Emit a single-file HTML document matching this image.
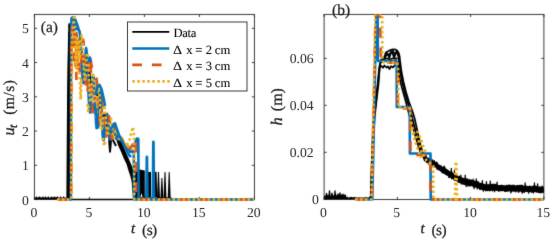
<!DOCTYPE html>
<html><head><meta charset="utf-8"><style>html,body{margin:0;padding:0;background:#fff;width:550px;height:241px;overflow:hidden}svg{display:block}text{text-rendering:geometricPrecision}</style></head>
<body><svg width="550" height="241" viewBox="0 0 550 241">
<defs><filter id="soft" x="0" y="0" width="550" height="241" filterUnits="userSpaceOnUse" color-interpolation-filters="sRGB"><feConvolveMatrix order="3" kernelMatrix="0.0200 0.0800 0.0200 0.0800 0.6000 0.0800 0.0200 0.0800 0.0200" divisor="1" edgeMode="duplicate"/></filter><filter id="soft2" x="0" y="0" width="550" height="241" filterUnits="userSpaceOnUse" color-interpolation-filters="sRGB"><feConvolveMatrix order="3" kernelMatrix="0.0110 0.0440 0.0110 0.0440 0.7800 0.0440 0.0110 0.0440 0.0110" divisor="1" edgeMode="duplicate"/></filter><clipPath id="cl"><rect x="34.4" y="14.4" width="220.0" height="186.54999999999998"/></clipPath>
<clipPath id="cr"><rect x="324.1" y="14.4" width="219.79999999999995" height="186.54999999999998"/></clipPath></defs>
<rect width="550" height="241" fill="#fff"/><g filter="url(#soft)"><rect width="550" height="241" fill="#fff"/>
<rect x="34.4" y="14.4" width="220.0" height="185.04999999999998" fill="none" stroke="#262626" stroke-width="0.9"/><path d="M34.40,199.45 V196.85 M34.40,14.4 V17.0" stroke="#262626" stroke-width="0.9"/><path d="M89.40,199.45 V196.85 M89.40,14.4 V17.0" stroke="#262626" stroke-width="0.9"/><path d="M144.40,199.45 V196.85 M144.40,14.4 V17.0" stroke="#262626" stroke-width="0.9"/><path d="M199.40,199.45 V196.85 M199.40,14.4 V17.0" stroke="#262626" stroke-width="0.9"/><path d="M254.40,199.45 V196.85 M254.40,14.4 V17.0" stroke="#262626" stroke-width="0.9"/><path d="M34.4,199.55 H37.0 M254.4,199.55 H251.8" stroke="#262626" stroke-width="0.9"/><path d="M34.4,165.30 H37.0 M254.4,165.30 H251.8" stroke="#262626" stroke-width="0.9"/><path d="M34.4,131.05 H37.0 M254.4,131.05 H251.8" stroke="#262626" stroke-width="0.9"/><path d="M34.4,96.80 H37.0 M254.4,96.80 H251.8" stroke="#262626" stroke-width="0.9"/><path d="M34.4,62.55 H37.0 M254.4,62.55 H251.8" stroke="#262626" stroke-width="0.9"/><path d="M34.4,28.30 H37.0 M254.4,28.30 H251.8" stroke="#262626" stroke-width="0.9"/>
<rect x="324.1" y="14.4" width="219.79999999999995" height="185.04999999999998" fill="none" stroke="#262626" stroke-width="0.9"/><path d="M324.10,199.45 V196.85 M324.10,14.4 V17.0" stroke="#262626" stroke-width="0.9"/><path d="M397.37,199.45 V196.85 M397.37,14.4 V17.0" stroke="#262626" stroke-width="0.9"/><path d="M470.63,199.45 V196.85 M470.63,14.4 V17.0" stroke="#262626" stroke-width="0.9"/><path d="M543.90,199.45 V196.85 M543.90,14.4 V17.0" stroke="#262626" stroke-width="0.9"/><path d="M324.1,199.35 H326.70000000000005 M543.9,199.35 H541.3" stroke="#262626" stroke-width="0.9"/><path d="M324.1,152.35 H326.70000000000005 M543.9,152.35 H541.3" stroke="#262626" stroke-width="0.9"/><path d="M324.1,105.35 H326.70000000000005 M543.9,105.35 H541.3" stroke="#262626" stroke-width="0.9"/><path d="M324.1,58.35 H326.70000000000005 M543.9,58.35 H541.3" stroke="#262626" stroke-width="0.9"/>
<g clip-path="url(#cl)"><path d="M34.40,198.14 L35.30,198.44 L36.20,198.27 L37.10,198.50 L38.00,198.53 L38.90,197.97 L39.80,197.91 L40.70,198.74 L41.60,198.16 L42.50,198.13 L43.40,198.90 L44.30,198.37 L45.20,198.74 L46.10,198.38 L47.00,198.54 L47.90,198.05 L48.80,198.53 L49.70,198.77 L50.60,198.42 L51.50,198.64 L52.40,198.57 L53.30,197.96 L54.20,198.66 L55.10,198.49 L56.00,198.20 L56.90,197.93 L57.80,198.77 L58.70,198.37 L59.60,198.62 L60.50,198.78 L61.40,198.61 L62.30,198.82 L63.20,198.29 L64.10,198.70 L65.00,198.34 L65.90,198.84 L66.80,198.78" fill="none" stroke="#000" stroke-width="1.8" stroke-linejoin="round" stroke-linecap="butt"/><path d="M36.00,198.80 L36.60,196.90 L37.20,198.80" fill="none" stroke="#000" stroke-width="1.1" stroke-linejoin="round" stroke-linecap="butt"/><path d="M39.00,198.80 L39.60,196.90 L40.20,198.80" fill="none" stroke="#000" stroke-width="1.1" stroke-linejoin="round" stroke-linecap="butt"/><path d="M42.50,198.80 L43.10,196.90 L43.70,198.80" fill="none" stroke="#000" stroke-width="1.1" stroke-linejoin="round" stroke-linecap="butt"/><path d="M45.00,198.80 L45.60,196.90 L46.20,198.80" fill="none" stroke="#000" stroke-width="1.1" stroke-linejoin="round" stroke-linecap="butt"/><path d="M48.00,198.80 L48.60,196.90 L49.20,198.80" fill="none" stroke="#000" stroke-width="1.1" stroke-linejoin="round" stroke-linecap="butt"/><path d="M51.00,198.80 L51.60,196.90 L52.20,198.80" fill="none" stroke="#000" stroke-width="1.1" stroke-linejoin="round" stroke-linecap="butt"/><path d="M54.00,198.80 L54.60,196.90 L55.20,198.80" fill="none" stroke="#000" stroke-width="1.1" stroke-linejoin="round" stroke-linecap="butt"/><path d="M57.00,198.80 L57.60,196.90 L58.20,198.80" fill="none" stroke="#000" stroke-width="1.1" stroke-linejoin="round" stroke-linecap="butt"/><path d="M60.00,198.80 L60.60,196.90 L61.20,198.80" fill="none" stroke="#000" stroke-width="1.1" stroke-linejoin="round" stroke-linecap="butt"/><path d="M63.00,198.80 L63.60,196.90 L64.20,198.80" fill="none" stroke="#000" stroke-width="1.1" stroke-linejoin="round" stroke-linecap="butt"/><path d="M67.30,199.45 L68.00,100.00 L68.90,40.00 L69.30,24.20 L70.20,24.50 L70.20,40.00 L69.80,100.00 L69.40,199.45" fill="none" stroke="#000" stroke-width="1.9" stroke-linejoin="round" stroke-linecap="butt"/><path d="M68.30,199.45 L68.60,100.00 L69.40,32.00" fill="none" stroke="#000" stroke-width="2.4" stroke-linejoin="round" stroke-linecap="butt"/><path d="M69.20,25.00 L71.00,32.00 L73.00,28.00 L75.00,40.00 L77.00,36.00 L79.00,52.00 L81.00,46.00 L83.00,62.00 L85.00,56.00 L87.00,74.00 L89.00,66.00 L91.00,86.00 L93.00,80.00 L95.00,98.00 L97.00,92.00 L99.00,108.00 L101.00,104.00 L103.00,118.00 L105.00,113.00 L107.00,128.00 L108.50,124.00 L110.00,151.50 L111.00,138.00 L113.00,140.00 L116.00,146.00" fill="none" stroke="#000" stroke-width="1.9" stroke-linejoin="round" stroke-linecap="butt"/><path d="M103.52,132.00 L107.56,134.00 L112.66,136.50 L116.46,140.00 L117.92,145.00 L121.15,152.00 L123.76,158.50 L126.51,164.00 L128.26,170.00 L130.32,176.00 L131.70,182.00 L132.30,190.00 L133.29,199.00 L136.00,199.00 L136.00,172.00 L133.40,170.00 L131.00,164.00 L128.00,157.00 L125.00,150.00 L122.50,144.00 L120.25,140.00 L117.00,134.00 L112.00,131.00 L108.00,130.00 Z" fill="#000" stroke="none"/><path d="M109.50,140.00 L110.00,151.50 L110.60,141.00" fill="none" stroke="#000" stroke-width="2.0" stroke-linejoin="round" stroke-linecap="butt"/><path d="M136.00,171.00 L139.50,169.50 L144.80,170.50 L144.80,197.00 L142.50,197.00 L141.50,193.00 L140.50,197.00 L136.00,197.00 Z" fill="#000" stroke="none"/><path d="M147.80,172.00 L151.00,172.00 L151.00,197.00 L147.80,197.00 Z" fill="#000" stroke="none"/><path d="M153.50,172.00 L156.60,171.80 L157.20,197.00 L153.50,197.00 Z" fill="#000" stroke="none"/><path d="M157.00,198.50 L158.00,172.00 L159.00,172.00 L160.00,198.50 Z" fill="#000" stroke="none"/><path d="M160.40,198.50 L161.40,178.00 L162.40,178.00 L163.40,198.50 Z" fill="#000" stroke="none"/><path d="M163.50,198.50 L164.50,172.00 L165.50,172.00 L166.50,198.50 Z" fill="#000" stroke="none"/><path d="M167.70,198.50 L168.70,172.00 L169.70,172.00 L170.70,198.50 Z" fill="#000" stroke="none"/><path d="M136.00,198.00 L171.50,198.30" fill="none" stroke="#000" stroke-width="1.6" stroke-linejoin="round" stroke-linecap="butt"/><path d="M64.40,199.45 L254.40,199.45" fill="none" stroke="#000" stroke-width="1.6" stroke-linejoin="round" stroke-linecap="butt"/><path d="M71.00,30.00 L72.30,17.60 L74.00,17.80 L75.60,20.70 L78.60,30.50 Z" fill="#0072BD" stroke="none"/><path d="M57.00,199.45 L70.90,199.45 L71.00,30.00 L71.60,18.00 L72.60,17.20 L74.00,17.60 L75.60,20.50 L77.30,25.00 L79.00,30.50 L79.60,31.52 L80.10,35.81 L80.60,42.87 L81.10,52.11 L81.60,63.54 L82.10,71.17 L82.60,78.65 L83.10,82.68 L83.60,83.08 L84.10,79.90 L84.60,72.98 L85.10,62.08 L85.60,52.02 L86.10,48.05 L86.60,51.23 L87.10,57.78 L87.60,68.28 L88.10,80.98 L88.60,95.94 L89.10,104.37 L89.60,110.22 L90.10,112.55 L90.60,108.17 L91.10,100.01 L91.60,90.58 L92.10,82.39 L92.60,77.32 L93.10,76.07 L93.60,76.56 L94.10,83.34 L94.60,92.64 L95.10,106.00 L95.60,114.19 L96.10,123.27 L96.60,128.11 L97.10,124.45 L97.60,116.89 L98.10,108.96 L98.60,100.44 L99.10,92.96 L99.60,90.18 L100.10,90.32 L100.60,94.78 L101.10,104.76 L101.60,113.63 L102.10,122.86 L102.60,134.08 L103.10,139.53 L103.60,140.48 L104.10,137.79 L104.60,132.56 L105.10,126.67 L105.60,120.04 L106.10,116.01 L106.60,114.24 L107.10,113.97 L107.60,118.59 L108.10,122.11 L108.60,128.02 L109.10,132.56 L109.60,137.19 L110.10,139.30 L110.60,139.50 L111.10,138.76 L111.60,135.01 L112.10,131.72 L112.60,128.75 L113.10,126.72 L113.60,125.55 L114.10,124.19 L114.60,126.63 L115.10,129.64 L115.60,133.93 L116.10,136.63 L116.60,138.93 L117.10,139.06 L117.60,138.21 L118.10,137.50 L118.60,138.39 L119.10,137.26 L119.60,138.12 L120.10,138.32 L120.60,138.65 L121.10,140.46 L121.60,140.85 L122.10,141.35 L122.60,141.16 L123.10,142.66 L123.60,142.59 L124.10,144.06 L124.60,144.42 L125.10,144.99 L125.60,144.65 L126.10,146.47 L126.60,146.38 L127.10,146.61 L127.60,146.44 L128.10,146.29 L128.60,146.75 L128.00,149.00 L130.50,152.00 L132.50,151.00 L133.80,152.00 L134.00,199.45 L254.40,199.45" fill="none" stroke="#0072BD" stroke-width="2.6" stroke-linejoin="round" stroke-linecap="butt"/><path d="M133.50,147.00 L136.80,138.60 L138.30,138.80 L138.60,199.45" fill="none" stroke="#0072BD" stroke-width="2.6" stroke-linejoin="round" stroke-linecap="butt"/><path d="M146.40,199.45 L146.90,157.00 L147.40,199.45" fill="none" stroke="#0072BD" stroke-width="2.8" stroke-linejoin="round" stroke-linecap="butt"/><path d="M152.90,199.45 L153.40,142.00 L153.90,199.45" fill="none" stroke="#0072BD" stroke-width="2.8" stroke-linejoin="round" stroke-linecap="butt"/><path d="M57.00,199.45 L71.10,199.45 L71.50,40.00 L72.40,26.00 L73.50,60.00 L74.50,30.00 L75.50,66.00 L76.50,33.00 L77.50,70.00 L78.50,36.00 L79.10,62.15 L79.60,69.77 L80.10,72.52 L80.60,70.81 L81.10,64.19 L81.60,54.41 L82.10,45.14 L82.60,41.05 L83.10,39.45 L83.60,42.28 L84.10,48.09 L84.60,60.79 L85.10,72.03 L85.60,81.56 L86.10,88.87 L86.60,92.62 L87.10,93.29 L87.60,90.97 L88.10,82.32 L88.60,73.97 L89.10,62.06 L89.60,57.38 L90.10,58.71 L90.60,65.03 L91.10,75.46 L91.60,87.44 L92.10,97.90 L92.60,106.46 L93.10,111.30 L93.60,110.44 L94.10,108.16 L94.60,101.55 L95.10,95.83 L95.60,86.74 L96.10,80.17 L96.60,78.71 L97.10,83.70 L97.60,93.87 L98.10,109.13 L98.60,118.43 L99.10,126.37 L99.60,127.18 L100.10,124.98 L100.60,117.97 L101.10,109.34 L101.60,103.16 L102.10,98.22 L102.60,97.48 L103.10,100.64 L103.60,106.04 L104.10,112.13 L104.60,122.08 L105.10,129.73 L105.60,135.04 L106.10,136.53 L106.60,135.93 L107.10,130.83 L107.60,125.76 L108.10,119.00 L108.60,115.90 L109.10,116.18 L109.60,119.97 L110.10,122.56 L110.60,129.20 L111.10,134.14 L111.60,137.39 L112.10,138.82 L112.60,137.05 L113.10,133.92 L113.60,129.95 L114.10,126.53 L114.60,123.61 L115.10,124.52 L115.60,127.30 L116.10,132.04 L116.60,135.86 L117.10,138.07 L117.60,138.82 L118.10,138.65 L118.60,139.13 L119.10,137.43 L119.60,136.65 L120.10,137.76 L120.60,137.22 L121.10,138.10 L121.60,138.26 L122.10,140.02 L122.60,140.84 L123.10,142.35 L123.60,142.63 L124.10,144.03 L124.60,144.38 L125.10,143.56 L125.60,143.44 L126.10,143.29 L126.60,142.80 L127.10,144.23 L127.60,144.38 L128.10,144.61 L128.60,146.93 L127.00,147.00 L130.00,149.00 L133.00,144.00 L135.30,138.20 L135.80,142.00 L135.90,199.45 L254.40,199.45" fill="none" stroke="#D95319" stroke-width="2.6" stroke-linejoin="round" stroke-linecap="butt" stroke-dasharray="10.2 9.7"/><path d="M88.80,64.00 L90.00,58.00 L91.00,62.00 L92.00,68.00" fill="none" stroke="#D95319" stroke-width="2.6" stroke-linejoin="round" stroke-linecap="butt"/><path d="M76.20,72.00 L76.40,80.00" fill="none" stroke="#D95319" stroke-width="2.6" stroke-linejoin="round" stroke-linecap="butt"/><path d="M92.40,108.00 L92.60,113.50" fill="none" stroke="#D95319" stroke-width="2.6" stroke-linejoin="round" stroke-linecap="butt"/><path d="M57.00,199.45 L71.30,199.45 L72.00,40.00 L73.40,22.00 L74.20,12.50 L74.80,18.00 L74.00,22.00 L75.20,26.00 L74.60,29.00 L75.00,50.00 L76.00,68.00 L77.00,38.00 L78.00,72.00 L79.00,40.00 L79.60,59.59 L80.10,51.42 L80.60,41.32 L81.10,37.14 L81.60,35.20 L82.10,38.85 L82.60,45.06 L83.10,55.36 L83.60,64.39 L84.10,74.40 L84.60,79.52 L85.10,78.53 L85.60,75.32 L86.10,67.47 L86.60,56.51 L87.10,53.05 L87.60,53.10 L88.10,56.92 L88.60,67.67 L89.10,81.29 L89.60,93.28 L90.10,101.21 L90.60,102.27 L91.10,99.84 L91.60,91.68 L92.10,81.31 L92.60,74.56 L93.10,72.76 L93.60,76.45 L94.10,83.60 L94.60,94.48 L95.10,103.37 L95.60,113.27 L96.10,116.51 L96.60,112.33 L97.10,100.82 L97.60,91.52 L98.10,86.89 L98.60,83.81 L99.10,86.57 L99.60,97.77 L100.10,107.54 L100.60,118.55 L101.10,127.27 L101.60,129.17 L102.10,125.85 L102.60,120.34 L103.10,110.69 L103.60,106.19 L104.10,103.15 L104.60,105.40 L105.10,108.97 L105.60,116.08 L106.10,122.57 L106.60,128.77 L107.10,133.54 L107.60,135.56 L108.10,135.00 L108.60,132.33 L109.10,126.09 L109.60,122.36 L110.10,120.86 L110.60,119.69 L111.10,118.93 L111.60,122.07 L112.10,126.36 L112.60,130.89 L113.10,136.94 L113.60,137.50 L114.10,137.07 L114.60,135.76 L115.10,133.63 L115.60,131.34 L116.10,128.13 L116.60,129.88 L117.10,130.84 L117.60,133.21 L118.10,135.60 L118.60,137.23 L119.10,138.72 L119.60,139.62 L120.10,139.91 L120.60,139.04 L121.10,138.54 L121.60,137.98 L122.10,138.60 L122.60,139.09 L123.10,139.45 L123.60,141.26 L124.10,143.23 L124.60,143.38 L125.10,145.59 L125.60,144.31 L126.10,145.11 L126.60,144.47 L127.10,143.82 L127.60,144.90 L128.10,145.35 L128.60,146.50 L126.00,146.00 L129.00,142.00 L131.50,132.00 L133.00,127.00 L134.00,135.00 L134.20,160.00 L134.30,199.45 L254.40,199.45" fill="none" stroke="#EDB120" stroke-width="2.6" stroke-linejoin="round" stroke-linecap="butt" stroke-dasharray="2.5 2.5"/><path d="M79.50,72.00 L80.70,99.50 L81.50,78.00" fill="none" stroke="#EDB120" stroke-width="2.6" stroke-linejoin="round" stroke-linecap="butt" stroke-dasharray="2.5 2.5"/><path d="M87.50,104.00 L88.20,111.00 L89.00,104.00" fill="none" stroke="#EDB120" stroke-width="2.6" stroke-linejoin="round" stroke-linecap="butt" stroke-dasharray="2.5 2.5"/><path d="M103.00,138.00 L104.00,146.00 L106.00,140.00" fill="none" stroke="#EDB120" stroke-width="2.6" stroke-linejoin="round" stroke-linecap="butt" stroke-dasharray="2.5 2.5"/><path d="M95.50,95.00 L97.50,87.00 L99.50,85.00 L101.50,89.00 L104.00,100.00 L105.00,106.00" fill="none" stroke="#0072BD" stroke-width="2.6" stroke-linejoin="round" stroke-linecap="butt"/><path d="M110.00,130.00 L112.50,126.00 L115.00,123.50 L116.50,128.00 L119.00,135.00 L121.50,140.00 L125.00,147.00 L129.00,155.00 L131.00,157.00" fill="none" stroke="#0072BD" stroke-width="2.6" stroke-linejoin="round" stroke-linecap="butt"/><path d="M94.50,104.00 L96.50,116.00 L98.20,128.70" fill="none" stroke="#0072BD" stroke-width="2.6" stroke-linejoin="round" stroke-linecap="butt"/><path d="M88.50,62.00 L89.80,57.50 L91.00,62.00" fill="none" stroke="#0072BD" stroke-width="2.6" stroke-linejoin="round" stroke-linecap="butt"/></g>
<g clip-path="url(#cr)"><path d="M324.10,195.36 L324.90,195.86 L325.70,195.71 L326.50,195.98 L327.30,195.34 L328.10,194.33 L328.90,195.72 L329.70,195.93 L330.50,195.81 L331.30,195.14 L332.10,195.43 L332.90,194.42 L333.70,195.66 L334.50,195.15 L335.30,194.57 L336.10,194.13 L336.90,195.71 L337.70,195.98 L338.50,194.18 L339.30,195.60 L340.10,194.82 L340.90,194.30 L341.70,194.59 L342.50,195.54 L343.30,195.75 L344.10,194.09 L344.90,195.23 L345.70,194.09 L346.50,197.24 L347.30,196.46 L348.10,197.56 L348.90,197.76 L349.70,196.81 L350.50,197.80 L351.30,196.42 L352.00,199.20 L324.10,199.20 Z" fill="#000" stroke="none"/><path d="M350.00,197.78 L350.70,198.30 L351.40,197.73 L352.10,197.90 L352.80,198.11 L353.50,198.31 L354.20,197.86 L354.90,197.74 L355.60,198.57 L356.30,198.01 L357.00,198.66 L357.70,198.60 L358.40,198.08 L359.10,198.16 L359.80,198.22 L360.50,198.34 L361.20,198.30 L361.90,198.26 L362.60,198.32 L363.30,198.64 L364.00,198.21 L364.70,198.13 L365.40,198.42 L366.10,197.94 L366.80,198.00 L367.50,198.68 L368.20,198.22 L368.90,198.25 L369.60,197.71 L370.30,198.12 L371.00,198.28" fill="none" stroke="#000" stroke-width="1.6" stroke-linejoin="round" stroke-linecap="butt"/><path d="M328.90,197.00 L329.50,190.80 L330.10,197.00" fill="none" stroke="#000" stroke-width="1.3" stroke-linejoin="round" stroke-linecap="butt"/><path d="M334.40,197.00 L335.00,191.00 L335.60,197.00" fill="none" stroke="#000" stroke-width="1.3" stroke-linejoin="round" stroke-linecap="butt"/><path d="M331.40,197.00 L332.00,193.20 L332.60,197.00" fill="none" stroke="#000" stroke-width="1.3" stroke-linejoin="round" stroke-linecap="butt"/><path d="M339.40,197.00 L340.00,192.80 L340.60,197.00" fill="none" stroke="#000" stroke-width="1.3" stroke-linejoin="round" stroke-linecap="butt"/><path d="M325.90,197.00 L326.50,193.50 L327.10,197.00" fill="none" stroke="#000" stroke-width="1.3" stroke-linejoin="round" stroke-linecap="butt"/><path d="M337.40,197.00 L338.00,194.00 L338.60,197.00" fill="none" stroke="#000" stroke-width="1.3" stroke-linejoin="round" stroke-linecap="butt"/><path d="M342.40,197.00 L343.00,194.20 L343.60,197.00" fill="none" stroke="#000" stroke-width="1.3" stroke-linejoin="round" stroke-linecap="butt"/><path d="M370.60,199.45 L371.30,175.00 L372.50,140.00 L373.60,118.00 L375.50,100.00 L377.20,88.00 L378.40,76.00 L379.50,66.00 L381.00,60.50 L383.50,58.50 L385.00,56.00 L385.60,52.80 L387.20,51.80 L389.00,50.80 L391.00,49.80 L393.30,49.30 L395.50,49.60 L397.30,50.80 L398.60,52.80 L399.50,56.00 L400.20,62.00 L401.50,72.00 L403.50,82.00 L406.00,92.00 L409.00,102.00 L412.00,110.00 L414.50,118.00 L416.50,127.00 L418.50,136.00 L420.50,145.00 L422.50,152.00 L425.00,158.00 L428.00,160.50" fill="none" stroke="#000" stroke-width="1.75" stroke-linejoin="round" stroke-linecap="butt"/><path d="M371.00,199.45 L371.80,172.00 L373.00,138.00 L374.20,117.00 L376.20,100.00 L377.80,86.00 L379.00,74.00 L380.20,64.00 L382.00,60.00 L385.00,58.80 L386.30,54.50 L388.00,54.50 L389.30,58.20 L390.60,53.50 L392.20,52.70 L393.40,55.80 L394.40,58.00 L395.50,53.00 L397.10,53.20 L398.40,56.50 L399.20,62.00 L400.00,70.00 L401.80,80.00 L404.20,90.00 L407.00,100.00 L409.50,108.00 L411.80,116.00 L414.00,125.00 L416.50,134.00 L418.80,143.00 L421.00,151.00 L423.50,157.00 L428.00,161.00" fill="none" stroke="#000" stroke-width="1.75" stroke-linejoin="round" stroke-linecap="butt"/><path d="M371.40,199.45 L372.30,168.00 L373.50,135.00 L374.80,116.00 L376.80,98.00 L378.50,84.00 L379.30,72.00 L379.60,67.00 L381.50,66.00 L383.00,67.80 L384.50,65.50 L386.50,67.50 L388.00,66.50 L389.50,69.00 L391.00,66.20 L393.00,67.40 L394.50,65.50 L396.50,64.50 L398.30,66.00 L398.80,72.00 L400.00,80.00 L402.00,88.00 L404.50,97.00 L407.00,106.00 L409.00,114.00 L411.50,122.00 L414.00,131.00 L416.50,140.00 L419.00,148.00 L421.50,155.00 L427.00,160.00" fill="none" stroke="#000" stroke-width="1.75" stroke-linejoin="round" stroke-linecap="butt"/><path d="M379.00,62.00 L381.50,59.50 L384.00,59.00 L387.00,58.50 L390.00,59.50 L393.00,58.20 L395.50,59.00 L397.50,58.00" fill="none" stroke="#000" stroke-width="1.75" stroke-linejoin="round" stroke-linecap="butt"/><path d="M383.00,58.00 L385.50,55.00 L387.50,53.50 L389.00,56.00 L391.00,51.50 L393.00,51.00 L394.50,54.50 L396.50,51.50 L398.50,54.00 L399.50,58.00" fill="none" stroke="#000" stroke-width="1.75" stroke-linejoin="round" stroke-linecap="butt"/><path d="M419.00,147.40 L420.50,147.40 L422.00,149.73 L423.50,153.23 L425.00,155.28 L426.50,156.59 L428.00,157.90 L429.50,158.67 L431.00,159.43 L432.50,160.20 L434.00,161.21 L435.50,162.22 L437.00,163.23 L438.50,164.25 L440.00,164.89 L441.50,165.93 L443.00,166.98 L444.50,167.97 L446.00,168.90 L447.50,169.84 L449.00,170.78 L450.50,171.71 L452.00,172.64 L453.50,173.57 L455.00,174.50 L456.50,175.25 L458.00,176.00 L459.50,176.75 L461.00,177.33 L462.50,177.82 L464.00,178.31 L465.50,178.81 L467.00,179.30 L468.50,179.66 L470.00,180.01 L471.50,180.37 L473.00,180.72 L474.50,181.08 L476.00,181.50 L477.50,181.95 L479.00,182.40 L480.50,182.85 L482.00,183.30 L483.50,183.75 L485.00,184.20 L486.50,184.28 L488.00,184.36 L489.50,184.44 L491.00,184.52 L492.50,184.60 L494.00,184.68 L495.50,184.76 L497.00,184.84 L498.50,184.92 L500.00,185.00 L501.50,185.04 L503.00,185.09 L504.50,185.13 L506.00,185.18 L507.50,185.22 L509.00,185.27 L510.50,185.31 L512.00,185.36 L513.50,185.41 L515.00,185.45 L516.50,185.50 L518.00,185.54 L519.50,185.59 L521.00,185.65 L522.50,185.72 L524.00,185.79 L525.50,185.86 L527.00,185.94 L528.50,186.01 L530.00,186.08 L531.50,186.15 L533.00,186.22 L534.50,186.30 L536.00,186.37 L537.50,186.44 L539.00,186.51 L540.50,186.58 L542.00,186.66 L543.50,186.73 L545.00,186.80 L545.00,192.80 L543.50,192.73 L542.00,192.66 L540.50,192.58 L539.00,192.51 L537.50,192.44 L536.00,192.37 L534.50,192.30 L533.00,192.22 L531.50,192.15 L530.00,192.08 L528.50,192.01 L527.00,191.94 L525.50,191.86 L524.00,191.79 L522.50,191.72 L521.00,191.65 L519.50,191.59 L518.00,191.54 L516.50,191.50 L515.00,191.45 L513.50,191.41 L512.00,191.36 L510.50,191.31 L509.00,191.27 L507.50,191.22 L506.00,191.18 L504.50,191.13 L503.00,191.09 L501.50,191.04 L500.00,191.00 L498.50,190.92 L497.00,190.84 L495.50,190.76 L494.00,190.68 L492.50,190.60 L491.00,190.52 L489.50,190.44 L488.00,190.36 L486.50,190.28 L485.00,190.20 L483.50,189.75 L482.00,189.30 L480.50,188.85 L479.00,188.40 L477.50,187.95 L476.00,187.50 L474.50,187.08 L473.00,186.72 L471.50,186.37 L470.00,186.01 L468.50,185.66 L467.00,185.30 L465.50,184.81 L464.00,184.31 L462.50,183.82 L461.00,183.33 L459.50,182.75 L458.00,182.00 L456.50,181.25 L455.00,180.50 L453.50,179.57 L452.00,178.64 L450.50,177.71 L449.00,176.78 L447.50,175.84 L446.00,174.90 L444.50,173.97 L443.00,172.98 L441.50,171.93 L440.00,170.89 L438.50,169.45 L437.00,168.43 L435.50,167.42 L434.00,166.41 L432.50,165.40 L431.00,164.63 L429.50,163.87 L428.00,163.10 L426.50,161.79 L425.00,160.47 L423.50,158.43 L422.00,154.93 L420.50,152.60 L419.00,152.60 Z" fill="#000" stroke="none"/><path d="M423.00,152.06 L423.50,153.74 L424.00,159.75 L424.50,160.41 L425.00,161.06 L425.50,155.37 L426.00,155.21 L426.50,162.19 L427.00,162.57 L427.50,162.35 L428.00,158.00 L428.50,164.11 L429.00,163.49 L429.50,163.43 L430.00,157.97 L430.50,159.28 L431.00,158.99 L431.50,164.67 L432.00,159.46 L432.50,160.64 L433.00,166.66 L433.50,160.77 L434.00,161.68 L434.50,160.73 L435.00,166.91 L435.50,162.76 L436.00,162.65 L436.50,162.11 L437.00,169.12 L437.50,162.87 L438.00,169.44 L438.50,169.31 L439.00,169.94 L439.50,170.01 L440.00,169.95 L440.50,170.49 L441.00,165.82 L441.50,171.83 L442.00,167.23 L442.50,172.97 L443.00,172.85 L443.50,166.95 L444.00,172.85 L444.50,168.90 L445.00,167.85 L445.50,174.52 L446.00,169.13 L446.50,169.94 L447.00,174.91 L447.50,170.00 L448.00,175.24 L448.50,170.92 L449.00,177.33 L449.50,177.39 L450.00,171.84 L450.50,172.51 L451.00,172.75 L451.50,178.80 L452.00,172.32 L452.50,173.17 L453.00,178.34 L453.50,178.97 L454.00,178.96 L454.50,180.43 L455.00,174.13 L455.50,175.68 L456.00,175.89 L456.50,174.88 L457.00,175.68 L457.50,181.26 L458.00,181.11 L458.50,182.29 L459.00,182.08 L459.50,176.17 L460.00,182.20 L460.50,177.02 L461.00,183.60 L461.50,178.42 L462.00,183.62 L462.50,183.84 L463.00,177.99 L463.50,183.23 L464.00,184.53 L464.50,184.15 L465.00,184.38 L465.50,179.46 L466.00,185.08 L466.50,178.85 L467.00,179.62 L467.50,178.92 L468.00,186.09 L468.50,184.85 L469.00,179.27 L469.50,185.96 L470.00,185.91 L470.50,179.83 L471.00,180.49 L471.50,180.13 L472.00,180.64 L472.50,180.55 L473.00,186.01 L473.50,181.30 L474.00,181.92 L474.50,181.00 L475.00,187.13 L475.50,182.29 L476.00,182.33 L476.50,181.15 L477.00,181.92 L477.50,181.63 L478.00,181.50 L478.50,182.52 L479.00,187.80 L479.50,189.05 L480.00,189.25 L480.50,188.65 L481.00,189.35 L481.50,183.49 L482.00,188.55 L482.50,189.89 L483.00,184.34 L483.50,189.95 L484.00,189.84 L484.50,184.83 L485.00,184.97 L485.50,190.72 L486.00,190.33 L486.50,190.23 L487.00,190.73 L487.50,189.37 L488.00,190.65 L488.50,185.11 L489.00,189.80 L489.50,190.68 L490.00,184.80 L490.50,190.62 L491.00,184.77 L491.50,184.78 L492.00,184.20 L492.50,190.85 L493.00,184.88 L493.50,184.23 L494.00,184.15 L494.50,190.09 L495.00,184.49 L495.50,185.46 L496.00,184.35 L496.50,190.08 L497.00,185.34 L497.50,190.01 L498.00,185.70 L498.50,191.25 L499.00,190.00 L499.50,190.90 L500.00,190.01 L500.50,190.55 L501.00,190.81 L501.50,185.01 L502.00,190.69 L502.50,190.27 L503.00,190.21 L503.50,190.29 L504.00,190.28 L504.50,191.22 L505.00,191.36 L505.50,191.23 L506.00,190.35 L506.50,191.27 L507.00,185.14 L507.50,190.32 L508.00,191.33 L508.50,185.22 L509.00,185.98 L509.50,190.48 L510.00,184.83 L510.50,191.20 L511.00,185.60 L511.50,191.60 L512.00,186.19 L512.50,185.17 L513.00,190.96 L513.50,190.84 L514.00,185.02 L514.50,185.67 L515.00,190.85 L515.50,191.87 L516.00,191.20 L516.50,185.93 L517.00,186.27 L517.50,185.43 L518.00,186.24 L518.50,185.65 L519.00,191.88 L519.50,185.64 L520.00,185.22 L520.50,185.75 L521.00,185.74 L521.50,185.28 L522.00,191.95 L522.50,185.37 L523.00,192.17 L523.50,191.27 L524.00,191.81 L524.50,192.25 L525.00,190.89 L525.50,185.70 L526.00,186.72 L526.50,186.13 L527.00,191.25 L527.50,186.90 L528.00,191.16 L528.50,192.54 L529.00,186.82 L529.50,186.06 L530.00,187.04 L530.50,186.29 L531.00,191.99 L531.50,191.67 L532.00,192.29 L532.50,187.07 L533.00,186.08 L533.50,192.84 L534.00,185.78 L534.50,186.60 L535.00,186.54 L535.50,186.08 L536.00,191.49 L536.50,186.26 L537.00,192.21 L537.50,186.58 L538.00,191.80 L538.50,191.98 L539.00,192.24 L539.50,192.24 L540.00,193.00 L540.50,192.17 L541.00,192.32 L541.50,192.59 L542.00,186.10 L542.50,187.27 L543.00,191.93 L543.50,192.58" fill="none" stroke="#000" stroke-width="1.2" stroke-linejoin="round" stroke-linecap="butt"/><path d="M444.00,170.66 L444.40,166.10 L444.80,170.66" fill="none" stroke="#000" stroke-width="1.2" stroke-linejoin="round" stroke-linecap="butt"/><path d="M448.51,172.84 L448.91,177.26 L449.31,172.84" fill="none" stroke="#000" stroke-width="1.2" stroke-linejoin="round" stroke-linecap="butt"/><path d="M450.89,174.95 L451.29,168.35 L451.69,174.95" fill="none" stroke="#000" stroke-width="1.2" stroke-linejoin="round" stroke-linecap="butt"/><path d="M454.03,176.90 L454.43,170.61 L454.83,176.90" fill="none" stroke="#000" stroke-width="1.2" stroke-linejoin="round" stroke-linecap="butt"/><path d="M455.03,176.90 L455.43,180.46 L455.83,176.90" fill="none" stroke="#000" stroke-width="1.2" stroke-linejoin="round" stroke-linecap="butt"/><path d="M460.50,180.16 L460.90,175.19 L461.30,180.16" fill="none" stroke="#000" stroke-width="1.2" stroke-linejoin="round" stroke-linecap="butt"/><path d="M461.50,180.16 L461.90,183.84 L462.30,180.16" fill="none" stroke="#000" stroke-width="1.2" stroke-linejoin="round" stroke-linecap="butt"/><path d="M464.82,181.58 L465.22,175.07 L465.62,181.58" fill="none" stroke="#000" stroke-width="1.2" stroke-linejoin="round" stroke-linecap="butt"/><path d="M465.82,181.58 L466.22,186.56 L466.62,181.58" fill="none" stroke="#000" stroke-width="1.2" stroke-linejoin="round" stroke-linecap="butt"/><path d="M472.68,183.65 L473.08,179.07 L473.48,183.65" fill="none" stroke="#000" stroke-width="1.2" stroke-linejoin="round" stroke-linecap="butt"/><path d="M473.68,183.65 L474.08,188.64 L474.48,183.65" fill="none" stroke="#000" stroke-width="1.2" stroke-linejoin="round" stroke-linecap="butt"/><path d="M475.82,184.45 L476.22,178.86 L476.62,184.45" fill="none" stroke="#000" stroke-width="1.2" stroke-linejoin="round" stroke-linecap="butt"/><path d="M476.82,184.45 L477.22,188.87 L477.62,184.45" fill="none" stroke="#000" stroke-width="1.2" stroke-linejoin="round" stroke-linecap="butt"/><path d="M479.53,185.26 L479.93,189.51 L480.33,185.26" fill="none" stroke="#000" stroke-width="1.2" stroke-linejoin="round" stroke-linecap="butt"/><path d="M481.99,186.30 L482.39,180.52 L482.79,186.30" fill="none" stroke="#000" stroke-width="1.2" stroke-linejoin="round" stroke-linecap="butt"/><path d="M482.99,186.30 L483.39,191.15 L483.79,186.30" fill="none" stroke="#000" stroke-width="1.2" stroke-linejoin="round" stroke-linecap="butt"/><path d="M486.01,187.25 L486.41,181.56 L486.81,187.25" fill="none" stroke="#000" stroke-width="1.2" stroke-linejoin="round" stroke-linecap="butt"/><path d="M489.82,187.46 L490.22,181.08 L490.62,187.46" fill="none" stroke="#000" stroke-width="1.2" stroke-linejoin="round" stroke-linecap="butt"/><path d="M494.11,187.63 L494.51,191.75 L494.91,187.63" fill="none" stroke="#000" stroke-width="1.2" stroke-linejoin="round" stroke-linecap="butt"/><path d="M496.63,187.82 L497.03,181.98 L497.43,187.82" fill="none" stroke="#000" stroke-width="1.2" stroke-linejoin="round" stroke-linecap="butt"/><path d="M510.46,188.28 L510.86,193.02 L511.26,188.28" fill="none" stroke="#000" stroke-width="1.2" stroke-linejoin="round" stroke-linecap="butt"/><path d="M517.87,188.51 L518.27,192.26 L518.67,188.51" fill="none" stroke="#000" stroke-width="1.2" stroke-linejoin="round" stroke-linecap="butt"/><path d="M521.87,188.64 L522.27,193.18 L522.67,188.64" fill="none" stroke="#000" stroke-width="1.2" stroke-linejoin="round" stroke-linecap="butt"/><path d="M524.69,188.83 L525.09,182.82 L525.49,188.83" fill="none" stroke="#000" stroke-width="1.2" stroke-linejoin="round" stroke-linecap="butt"/><path d="M528.31,188.95 L528.71,193.15 L529.11,188.95" fill="none" stroke="#000" stroke-width="1.2" stroke-linejoin="round" stroke-linecap="butt"/><path d="M534.05,189.27 L534.45,182.81 L534.85,189.27" fill="none" stroke="#000" stroke-width="1.2" stroke-linejoin="round" stroke-linecap="butt"/><path d="M537.23,189.43 L537.63,183.80 L538.03,189.43" fill="none" stroke="#000" stroke-width="1.2" stroke-linejoin="round" stroke-linecap="butt"/><path d="M355.00,199.45 L372.30,199.45 L374.00,120.00 L375.60,40.00 L376.40,14.40 L377.60,14.40 L377.90,61.00 L396.60,61.00 L396.80,107.00 L409.70,107.00 L409.90,153.50 L430.50,153.50 L430.70,199.45 L543.90,199.45" fill="none" stroke="#0072BD" stroke-width="2.6" stroke-linejoin="round" stroke-linecap="butt"/><path d="M355.00,199.45 L371.80,199.45 L373.40,120.00 L375.00,40.00 L375.80,14.40 L379.50,14.40 L380.20,26.00 L380.50,36.00 L380.80,55.00 L382.50,62.80 L395.80,62.80 L397.60,68.00 L397.90,108.50 L410.20,108.50 L410.50,155.00 L430.20,155.00 L430.50,199.45 L543.90,199.45" fill="none" stroke="#D95319" stroke-width="2.6" stroke-linejoin="round" stroke-linecap="butt" stroke-dasharray="10.2 9.7"/><path d="M355.00,199.45 L371.50,199.45 L373.10,120.00 L374.70,40.00 L375.40,14.40 L382.20,14.40 L382.30,56.00 L383.50,62.50 L396.50,62.50 L398.30,70.00 L398.50,107.50 L409.80,108.20 L411.50,125.00 L414.00,133.00 L418.50,140.00 L421.00,150.00 L424.00,157.00 L428.00,162.00 L433.20,166.00 L433.40,199.45 L455.00,199.45 L455.60,162.00 L456.40,162.00 L457.00,199.45 L543.90,199.45" fill="none" stroke="#EDB120" stroke-width="2.6" stroke-linejoin="round" stroke-linecap="butt" stroke-dasharray="2.5 2.5"/><path d="M411.50,128.00 L414.00,138.00 L416.50,146.00 L419.00,152.00 L421.00,158.00" fill="none" stroke="#EDB120" stroke-width="2.6" stroke-linejoin="round" stroke-linecap="butt" stroke-dasharray="2.5 2.5"/><path d="M417.00,131.00 L421.00,139.00 L423.50,147.00 L426.00,153.00" fill="none" stroke="#EDB120" stroke-width="2.6" stroke-linejoin="round" stroke-linecap="butt" stroke-dasharray="2.5 2.5"/></g>


</g><g filter="url(#soft2)"><rect x="127.5" y="22" width="119.5" height="69" fill="#fff" stroke="#262626" stroke-width="0.9"/><path d="M132.3,31.9 H169.3" stroke="#000" stroke-width="1.9"/><path d="M132.3,48.5 H169.3" stroke="#0072BD" stroke-width="2.6"/><path d="M132.3,64.9 H169.3" stroke="#D95319" stroke-width="2.6" stroke-dasharray="9.6 10"/><path d="M132.3,81.4 H169.8" stroke="#EDB120" stroke-width="2.6" stroke-dasharray="2.5 2.5"/><text x="173.4" y="36.6" letter-spacing="-0.25" font-family="Liberation Serif" font-size="12.6" fill="#000" stroke="#000" stroke-width="0.08">Data</text><text transform="translate(173.0,53.7) scale(1.12,1)" font-family="Liberation Serif" font-size="12.6" fill="#000" stroke="#000" stroke-width="0.08">Δ</text><text x="186.2" y="53.7" font-family="Liberation Serif" font-size="12.6" fill="#000" stroke="#000" stroke-width="0.08">x</text><text x="195.2" y="53.7" font-family="Liberation Serif" font-size="12.6" fill="#000" stroke="#000" stroke-width="0.08">=</text><text x="205.8" y="53.7" font-family="Liberation Serif" font-size="12.6" fill="#000" stroke="#000" stroke-width="0.08">2</text><text x="214.8" y="53.7" font-family="Liberation Serif" font-size="12.6" fill="#000" stroke="#000" stroke-width="0.08">cm</text><text transform="translate(173.0,70.1) scale(1.12,1)" font-family="Liberation Serif" font-size="12.6" fill="#000" stroke="#000" stroke-width="0.08">Δ</text><text x="186.2" y="70.1" font-family="Liberation Serif" font-size="12.6" fill="#000" stroke="#000" stroke-width="0.08">x</text><text x="195.2" y="70.1" font-family="Liberation Serif" font-size="12.6" fill="#000" stroke="#000" stroke-width="0.08">=</text><text x="205.8" y="70.1" font-family="Liberation Serif" font-size="12.6" fill="#000" stroke="#000" stroke-width="0.08">3</text><text x="214.8" y="70.1" font-family="Liberation Serif" font-size="12.6" fill="#000" stroke="#000" stroke-width="0.08">cm</text><text transform="translate(173.0,86.7) scale(1.12,1)" font-family="Liberation Serif" font-size="12.6" fill="#000" stroke="#000" stroke-width="0.08">Δ</text><text x="186.2" y="86.7" font-family="Liberation Serif" font-size="12.6" fill="#000" stroke="#000" stroke-width="0.08">x</text><text x="195.2" y="86.7" font-family="Liberation Serif" font-size="12.6" fill="#000" stroke="#000" stroke-width="0.08">=</text><text x="205.8" y="86.7" font-family="Liberation Serif" font-size="12.6" fill="#000" stroke="#000" stroke-width="0.08">5</text><text x="214.8" y="86.7" font-family="Liberation Serif" font-size="12.6" fill="#000" stroke="#000" stroke-width="0.08">cm</text><text x="33.80" y="217.4" text-anchor="middle" font-family="Liberation Serif" font-size="13.7" fill="#262626">0</text><text x="88.80" y="217.4" text-anchor="middle" font-family="Liberation Serif" font-size="13.7" fill="#262626">5</text><text x="143.80" y="217.4" text-anchor="middle" font-family="Liberation Serif" font-size="13.7" fill="#262626">10</text><text x="198.80" y="217.4" text-anchor="middle" font-family="Liberation Serif" font-size="13.7" fill="#262626">15</text><text x="253.80" y="217.4" text-anchor="middle" font-family="Liberation Serif" font-size="13.7" fill="#262626">20</text><text x="28.9" y="204.55" text-anchor="end" font-family="Liberation Serif" font-size="13.7" fill="#262626">0</text><text x="28.9" y="170.30" text-anchor="end" font-family="Liberation Serif" font-size="13.7" fill="#262626">1</text><text x="28.9" y="136.05" text-anchor="end" font-family="Liberation Serif" font-size="13.7" fill="#262626">2</text><text x="28.9" y="101.80" text-anchor="end" font-family="Liberation Serif" font-size="13.7" fill="#262626">3</text><text x="28.9" y="67.55" text-anchor="end" font-family="Liberation Serif" font-size="13.7" fill="#262626">4</text><text x="28.9" y="33.30" text-anchor="end" font-family="Liberation Serif" font-size="13.7" fill="#262626">5</text><text x="323.50" y="217.4" text-anchor="middle" font-family="Liberation Serif" font-size="13.7" fill="#262626">0</text><text x="396.77" y="217.4" text-anchor="middle" font-family="Liberation Serif" font-size="13.7" fill="#262626">5</text><text x="470.03" y="217.4" text-anchor="middle" font-family="Liberation Serif" font-size="13.7" fill="#262626">10</text><text x="543.30" y="217.4" text-anchor="middle" font-family="Liberation Serif" font-size="13.7" fill="#262626">15</text><text x="318.8" y="204.35" text-anchor="end" font-family="Liberation Serif" font-size="13.7" fill="#262626">0</text><text x="313.6" y="157.35" text-anchor="end" font-family="Liberation Serif" font-size="13.7" fill="#262626">0.02</text><text x="313.6" y="110.35" text-anchor="end" font-family="Liberation Serif" font-size="13.7" fill="#262626">0.04</text><text x="313.6" y="63.35" text-anchor="end" font-family="Liberation Serif" font-size="13.7" fill="#262626">0.06</text><text x="131.0" y="233.3" font-size="14.8" font-style="italic" stroke="#1e1e1e" stroke-width="0.35" font-family="Liberation Serif" fill="#1e1e1e">t</text><text x="142.1" y="234.6" font-size="15.5" letter-spacing="-0.6" font-family="Liberation Serif" fill="#1e1e1e" stroke="#1e1e1e" stroke-width="0.25">(s)</text><text x="420.4" y="233.3" font-size="14.8" font-style="italic" stroke="#1e1e1e" stroke-width="0.35" font-family="Liberation Serif" fill="#1e1e1e">t</text><text x="431.5" y="234.6" font-size="15.5" letter-spacing="-0.6" font-family="Liberation Serif" fill="#1e1e1e" stroke="#1e1e1e" stroke-width="0.25">(s)</text><text transform="translate(14.4,135.6) rotate(-90)" font-size="16.2" font-style="italic" stroke="#1e1e1e" stroke-width="0.3" font-family="Liberation Serif" fill="#1e1e1e">u</text><text transform="translate(17.1,128.0) rotate(-90)" font-size="11.8" font-style="italic" stroke="#1e1e1e" stroke-width="0.35" font-family="Liberation Serif" fill="#1e1e1e">t</text><text transform="translate(14.0,114.8) rotate(-90)" font-size="15.5" letter-spacing="0.5" font-family="Liberation Serif" fill="#1e1e1e" stroke="#1e1e1e" stroke-width="0.25">(m/s)</text><text transform="translate(281.6,125.4) rotate(-90)" font-size="16.2" font-style="italic" stroke="#1e1e1e" stroke-width="0.3" font-family="Liberation Serif" fill="#1e1e1e">h</text><text transform="translate(282.0,111.2) rotate(-90)" font-size="16" font-family="Liberation Serif" fill="#1e1e1e" stroke="#1e1e1e" stroke-width="0.25">(m)</text><text x="40.8" y="31.8" font-size="15.5" font-family="Liberation Serif" fill="#1e1e1e" stroke="#1e1e1e" stroke-width="0.25">(a)</text><text x="332.1" y="14.5" font-size="15.5" font-family="Liberation Serif" fill="#1e1e1e" stroke="#1e1e1e" stroke-width="0.25">(b)</text></g></svg></body></html>
